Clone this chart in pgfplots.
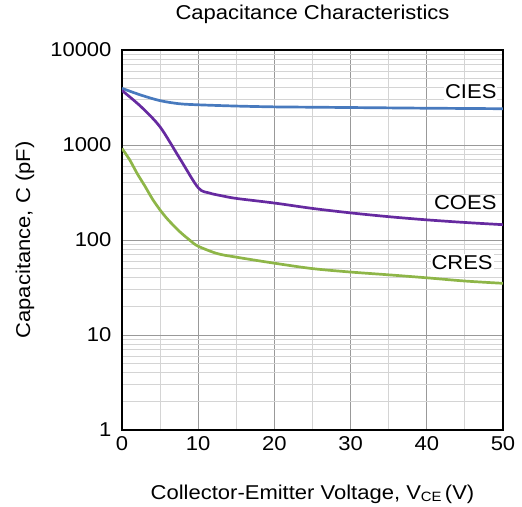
\documentclass[border=0pt]{standalone}
\usepackage{fontspec}
\setmainfont{Liberation Sans}[FakeStretch=1.1]
\usepackage{pgfplots}
\pgfplotsset{compat=1.18}
\definecolor{cies}{RGB}{72,122,190}
\definecolor{coes}{RGB}{102,42,160}
\definecolor{cres}{RGB}{142,182,72}
\newcommand{\lblfont}{\fontsize{20}{24}\selectfont}
\begin{document}
\begin{tikzpicture}
\begin{axis}[
  scale only axis=true,
  width=381pt, height=380pt,
  ymode=log,
  xmin=0, xmax=50, ymin=1, ymax=10000,
  xtick={0,10,...,50},
  minor xtick={5,15,...,45},
  ytick={1,10,100,1000,10000},
  yticklabels={1,10,100,1000,10000},
  minor ytick={2,3,...,9,20,30,...,90,200,300,...,900,2000,3000,...,9000},
  grid=both,
  major grid style={draw=black!40, line width=0.9pt},
  minor grid style={draw=black!17, line width=0.9pt},
  major tick length=0pt, minor tick length=0pt,
  axis line style={line width=1.3pt},
  /pgf/number format/assume math mode=true,
  tick label style={font=\lblfont},
  yticklabel style={xshift=-7pt},
  xticklabel style={yshift=-3pt},
  title style={font=\lblfont, at={(axis description cs:0.5,1.079)}, anchor=center},
  title={Capacitance Characteristics},
  xlabel style={font=\lblfont, at={(axis description cs:0.5,-0.168)}, anchor=center},
  xlabel={Collector-Emitter Voltage, V{\fontsize{13.5}{15}\selectfont\raisebox{-2pt}{CE}}\,(V)},
  ylabel style={font=\lblfont, at={(axis description cs:-0.255,0.5)}, anchor=center, rotate=0},
  ylabel={Capacitance, C (pF)},
  every axis plot/.append style={line width=2.7pt, smooth, no marks},
]
\addplot[cies] coordinates {
 (0,3950) (2.5,3350) (5,2930) (7.5,2720) (10,2650) (15,2570) (20,2520)
 (25,2500) (30,2480) (35,2460) (40,2440) (45,2425) (50,2410)
};
\addplot[coes] coordinates {
 (0,3750) (2.5,2530) (5,1550) (7.5,740) (10,355) (11.5,312) (13,293)
 (15,274) (20,245) (25,215) (30,193) (35,176) (40,163) (45,153) (50,145)
};
\addplot[cres] coordinates {
 (0,920) (1,700) (2,500) (3,370) (4,270) (5,207) (6,165) (7.5,124) (9,98)
 (10,86) (12.5,72) (15,66) (20,57) (25,50) (30,46) (35,43) (40,40) (45,37) (50,35)
};
\node[fill=white, anchor=east, inner sep=1pt, font=\lblfont] at (axis cs:49.3,3610) {CIES};
\node[fill=white, anchor=east, inner sep=1pt, font=\lblfont] at (axis cs:49.3,245) {COES};
\node[fill=white, anchor=east, inner sep=1pt, font=\lblfont] at (axis cs:48.8,58) {CRES};
\coordinate (bl) at (axis description cs:-0.3202,-0.2);
\coordinate (tr) at (axis description cs:1.0499,1.1316);
\end{axis}
\pgfresetboundingbox
\path[use as bounding box] (bl) rectangle (tr);
\end{tikzpicture}
\end{document}
